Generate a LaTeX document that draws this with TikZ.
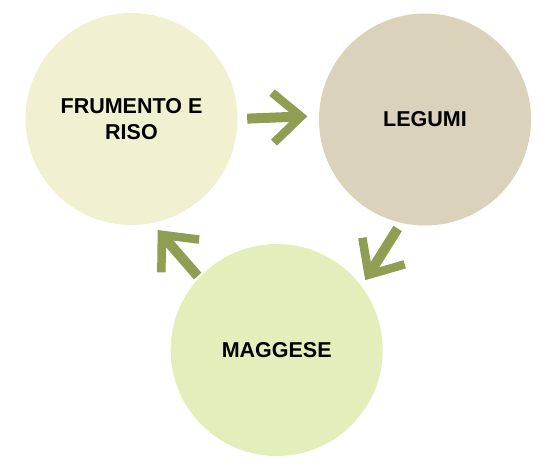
\documentclass[tikz,border=0pt]{standalone}
\usepackage{fontspec}
\setmainfont{Liberation Sans}
\usetikzlibrary{arrows.meta}

\definecolor{grano}{RGB}{241,240,208}
\definecolor{legume}{RGB}{218,210,186}
\definecolor{riposo}{RGB}{228,238,187}
\definecolor{freccia}{RGB}{143,158,82}

\tikzset{
  fase/.style={circle, minimum size=212pt, inner sep=0pt, align=center,
    font=\fontsize{21.5}{25.5}\selectfont\bfseries},
  flow/.style={draw=freccia, line width=10pt,
    -{Straight Barb[sharp, length=28pt, width=50pt, line width=8.5pt]}}
}

\begin{document}
\begin{tikzpicture}[x=1pt, y=-1pt]
    \useasboundingbox (0,0) rectangle (540,471);

    \node[fase, fill=grano] (frum) at (131.5,119) {FRUMENTO E\\RISO};
    \node[fase, fill=legume] (leg) at (425,119.5) {LEGUMI};
    \node[fase, fill=riposo] (mag) at (276.7,350) {MAGGESE};

    % rotazione
    \draw[flow, shorten <=9.5pt, shorten >=11.5pt] (frum.0.8) -- (leg.178.9);
    \draw[flow, shorten <=6.5pt, shorten >=7pt] (leg.257.9) -- (mag.37.2);
    \draw[flow, shorten <=2pt, shorten >=9pt] (mag.137.7) -- (frum.281.3);
\end{tikzpicture}
\end{document}
